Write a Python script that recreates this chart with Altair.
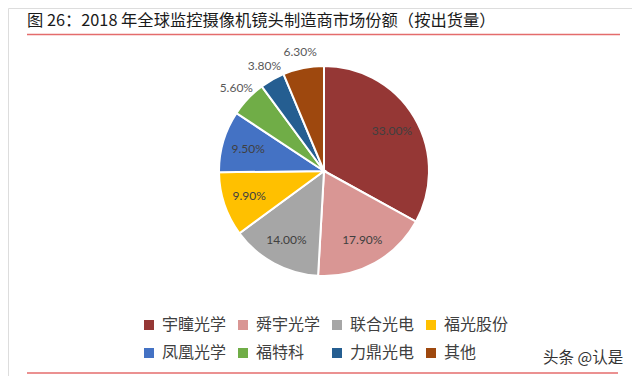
import altair as alt
import pandas as pd

names = ["宇瞳光学", "舜宇光学", "联合光电", "福光股份", "凤凰光学", "福特科", "力鼎光电", "其他"]
shares = [33.0, 17.9, 14.0, 9.9, 9.5, 5.6, 3.8, 6.3]
colors = ["#953735", "#d99694", "#a6a6a6", "#ffc000", "#4472c4", "#70ad47", "#255e91", "#9e480e"]
title_text = "图 26：2018 年全球监控摄像机镜头制造商市场份额（按出货量）"
watermark = "头条 @认是"

df = pd.DataFrame({"name": names, "share": shares, "idx": list(range(len(names)))})

CX, CY, R = 316, 163, 105
CJK = "Noto Sans CJK SC"

base = alt.Chart(df)

color = alt.Color(
    "name:N",
    scale=alt.Scale(domain=names, range=colors),
    sort=names,
    legend=alt.Legend(
        title=None,
        orient="none",
        legendX=133,
        legendY=309,
        columns=4,
        direction="horizontal",
        symbolType="square",
        symbolSize=100,
        symbolStrokeWidth=0,
        labelFont=CJK,
        labelFontSize=16,
        labelColor="#404040",
        labelOffset=5,
        columnPadding=8,
        rowPadding=12,
        padding=0,
        labelLimit=200,
    ),
)

arcs = base.mark_arc(outerRadius=R, stroke="white", strokeWidth=2).encode(
    theta=alt.Theta("share:Q", stack=True, scale=alt.Scale(domain=[0, 100])),
    color=color,
    order=alt.Order("idx:Q"),
    x=alt.value(CX),
    y=alt.value(CY),
)

labels = (
    base.transform_window(cum="sum(share)", sort=[alt.SortField("idx")])
    .transform_calculate(
        mid="datum.cum - datum.share / 2",
        label="format(datum.share, '.2f') + '%'",
        r="datum.share < 7 ? 121 : 79",
        tc="datum.share < 7 ? '#595959' : '#404040'",
    )
    .mark_text(font="Lato", fontSize=12)
    .encode(
        theta=alt.Theta("mid:Q", stack=None, scale=alt.Scale(domain=[0, 100])),
        radius=alt.Radius("r:Q", scale=None),
        text="label:N",
        color=alt.Color("tc:N", scale=None),
        x=alt.value(CX),
        y=alt.value(CY),
    )
)

one = pd.DataFrame({"t": [title_text], "w": [watermark]})

title = alt.Chart(one).mark_text(
    font=CJK, fontSize=16.3, align="left", baseline="middle", color="#1a1a1a"
).encode(text="t:N", x=alt.value(19), y=alt.value(13))

wm = alt.Chart(one).mark_text(
    font=CJK, fontSize=15.5, align="left", baseline="middle", color="#333333"
).encode(text="w:N", x=alt.value(535), y=alt.value(350))

top_rule = alt.Chart(one).mark_rule(color="#e46c6c", strokeWidth=1.5).encode(
    x=alt.value(19), x2=alt.value(612), y=alt.value(26.5)
)
bottom_rule = alt.Chart(one).mark_rule(color="#e46c6c", strokeWidth=1.5).encode(
    x=alt.value(19), x2=alt.value(610), y=alt.value(365)
)

chart = (
    alt.layer(arcs, labels, title, wm, top_rule, bottom_rule)
    .resolve_scale(color="independent")
    .properties(width=624, height=368, autosize="none", padding=0)
    .configure_view(stroke=None)
    .configure(background="white")
)

chart.save("out.html", embed_options={"renderer": "svg", "actions": False})
